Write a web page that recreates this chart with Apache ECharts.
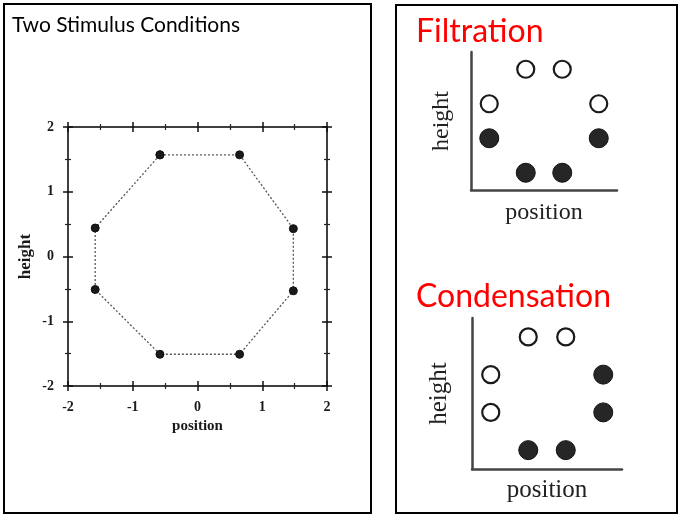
<!DOCTYPE html>
<html>
<head>
<meta charset="utf-8">
<script src="https://cdn.jsdelivr.net/npm/echarts@6/dist/echarts.min.js"></script>
<style>
  html, body { margin: 0; padding: 0; background: #fff; }
  #main { width: 686px; height: 520px; }
</style>
</head>
<body>
<div id="main"></div>
<script>
// 左图：八边形刺激位置
var posX = [-0.58, 0.65, 1.48, 1.48, 0.65, -0.58, -1.58, -1.58];
var posY = [1.57, 1.57, 0.43, -0.53, -1.51, -1.51, -0.51, 0.44];
var mainMin = -2, mainMax = 2, mainStep = 1;

// 右图：Filtration / Condensation（空心、实心）
var filtOpen = [[1.5, 3.5], [2.5, 3.5], [0.5, 2.5], [3.5, 2.5]];
var filtFilled = [[0.5, 1.5], [3.5, 1.5], [1.5, 0.5], [2.5, 0.5]];
var condOpen = [[1.5, 3.5], [2.5, 3.5], [0.5, 2.5], [0.5, 1.5]];
var condFilled = [[3.5, 2.5], [3.5, 1.5], [1.5, 0.5], [2.5, 0.5]];

var titles = ['Two Stimulus Conditions', 'Filtration', 'Condensation'];

// 闭合八边形
var octagon = [];
for (let i = 0; i < posX.length; i++) octagon.push([posX[i], posY[i]]);
octagon.push([posX[0], posY[0]]);

var serif = 'Liberation Serif';
var inkColor = '#1a1a1a';

// 主图坐标轴：inside 控制刻度方向，labels 控制是否显示数字
function mainAxis(gridIndex, position, inside, labels, name) {
    var isLeft = position === 'left';
    return {
        type: 'value',
        gridIndex: gridIndex,
        position: position,
        min: mainMin, max: mainMax, interval: mainStep,
        name: name || '',
        nameLocation: 'middle',
        nameGap: isLeft ? 34 : 33,
        nameTextStyle: { fontFamily: serif, fontSize: isLeft ? 17 : 15, fontWeight: 'bold', color: inkColor },
        axisLine: { show: true, onZero: false, lineStyle: { color: '#333', width: 1.5 } },
        axisTick: { show: true, inside: inside, length: 5, lineStyle: { color: '#111', width: 1.5 } },
        minorTick: { show: true, splitNumber: 2, length: 3, lineStyle: { color: '#222', width: 1.2 } },
        splitLine: { show: false },
        axisLabel: {
            show: labels,
            margin: 14,
            fontFamily: serif, fontSize: 14, fontWeight: 'bold', color: inkColor,
            showMinLabel: true, showMaxLabel: true
        }
    };
}

// 小图坐标轴：只有轴线和名称
function miniAxis(gridIndex, isX, gap, size) {
    return {
        type: 'value',
        gridIndex: gridIndex,
        min: 0, max: 4,
        name: isX ? 'position' : 'height',
        nameLocation: 'middle',
        nameGap: gap,
        nameTextStyle: { fontFamily: serif, fontSize: size, color: '#222' },
        axisLine: { show: true, onZero: false, lineStyle: { color: '#444', width: 2.5 } },
        axisTick: { show: false },
        splitLine: { show: false },
        axisLabel: { show: false }
    };
}

function openSeries(idx, data) {
    return {
        type: 'scatter', xAxisIndex: idx, yAxisIndex: idx, data: data,
        symbol: 'circle', symbolSize: 17,
        itemStyle: { color: '#fff', borderColor: '#1a1a1a', borderWidth: 2.2, opacity: 1 },
        silent: true
    };
}
function filledSeries(idx, data) {
    return {
        type: 'scatter', xAxisIndex: idx, yAxisIndex: idx, data: data,
        symbol: 'circle', symbolSize: 19,
        itemStyle: { color: '#262626', borderColor: '#111', borderWidth: 1, opacity: 1 },
        silent: true
    };
}

var my_chart = echarts.init(document.getElementById('main'), null, { renderer: 'canvas' });
var option = {
    backgroundColor: '#fff',
    animation: false,
    title: [
        { text: titles[0], left: 7, top: 10,
          textStyle: { fontFamily: 'Lato', fontSize: 21, fontWeight: 'normal', color: '#000' } },
        { text: titles[1], left: 411, top: 11,
          textStyle: { fontFamily: 'Lato', fontSize: 32, fontWeight: 'normal', color: '#ff0000' } },
        { text: titles[2], left: 411, top: 276,
          textStyle: { fontFamily: 'Lato', fontSize: 32, fontWeight: 'normal', color: '#ff0000' } }
    ],
    graphic: [
        { type: 'rect', shape: { x: 4, y: 4, width: 367, height: 509 },
          style: { fill: 'none', stroke: '#000', lineWidth: 2 }, silent: true },
        { type: 'rect', shape: { x: 396, y: 5, width: 281, height: 508 },
          style: { fill: 'none', stroke: '#000', lineWidth: 2 }, silent: true }
    ],
    grid: [
        { left: 68, top: 127, width: 259, height: 259, outerBoundsMode: 'none' },
        { left: 68, top: 127, width: 259, height: 259, outerBoundsMode: 'none' },
        { left: 471, top: 52, width: 146, height: 138, outerBoundsMode: 'none' },
        { left: 472, top: 318, width: 150, height: 151, outerBoundsMode: 'none' }
    ],
    xAxis: [
        mainAxis(0, 'bottom', false, true, 'position'),
        mainAxis(0, 'top', false, false),
        mainAxis(1, 'bottom', true, false),
        mainAxis(1, 'top', true, false),
        miniAxis(2, true, 11, 24),
        miniAxis(3, true, 9, 25)
    ],
    yAxis: [
        mainAxis(0, 'left', false, true, 'height'),
        mainAxis(0, 'right', false, false),
        mainAxis(1, 'left', true, false),
        mainAxis(1, 'right', true, false),
        miniAxis(2, false, 17, 24),
        miniAxis(3, false, 20, 25)
    ],
    series: [
        {
            type: 'line', xAxisIndex: 0, yAxisIndex: 0, data: octagon,
            symbol: 'circle', symbolSize: 8, showSymbol: true,
            lineStyle: { color: '#555', width: 1.3, type: [2, 2] },
            itemStyle: { color: '#1a1a1a', borderColor: '#111', borderWidth: 1 },
            silent: true
        },
        openSeries(4, filtOpen),
        filledSeries(4, filtFilled),
        openSeries(5, condOpen),
        filledSeries(5, condFilled)
    ]
};
my_chart.setOption(option);
</script>
</body>
</html>
